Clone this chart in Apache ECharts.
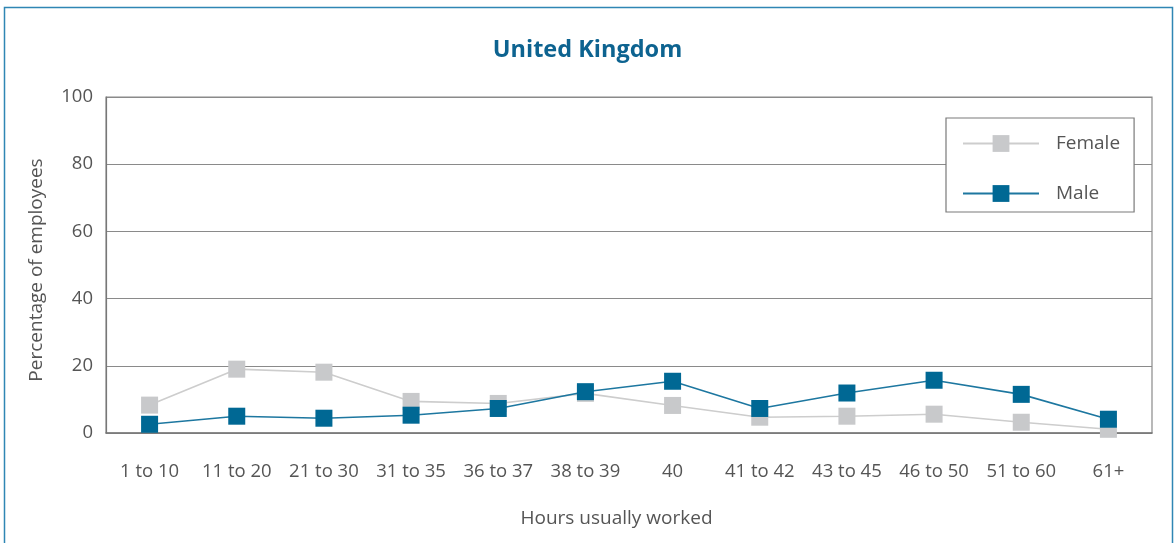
<!DOCTYPE html>
<html>
<head>
<meta charset="utf-8">
<script src="https://cdn.jsdelivr.net/npm/echarts@6/dist/echarts.min.js"></script>
<style>
  html, body { margin: 0; padding: 0; background: #ffffff; }
  #chart { width: 1175px; height: 543px; }
</style>
</head>
<body>
<div id="chart"></div>
<script>
// Hours usually worked, share of employees by sex (%)
const categories = ['1 to 10', '11 to 20', '21 to 30', '31 to 35', '36 to 37', '38 to 39',
                    '40', '41 to 42', '43 to 45', '46 to 50', '51 to 60', '61+'];
const female = [8.3, 19.0, 18.1, 9.4, 8.8, 11.8, 8.2, 4.7, 5.0, 5.6, 3.2, 1.1];
const male   = [2.6, 5.0, 4.4, 5.3, 7.3, 12.3, 15.4, 7.3, 11.9, 15.7, 11.5, 4.1];
const yTicks = [0, 20, 40, 60, 80, 100];

const FONT = '"Open Sans", "Noto Sans", sans-serif';
const TEXT = '#555555';

const chart = echarts.init(document.getElementById('chart'), null, { renderer: 'canvas' });

chart.setOption({
  animation: false,
  backgroundColor: '#ffffff',
  textStyle: { fontFamily: FONT },
  graphic: [{
    type: 'rect',
    silent: true,
    z: 100,
    shape: { x: 4.5, y: 7.5, width: 1168, height: 600 },
    style: { fill: 'none', stroke: '#2f86b4', lineWidth: 1.5 }
  }],
  title: {
    text: 'United Kingdom',
    left: 'center',
    top: 33,
    textStyle: { fontFamily: FONT, fontSize: 23.5, fontWeight: 'bold', color: '#0d6390' }
  },
  legend: {
    left: 946,
    top: 118,
    orient: 'vertical',
    backgroundColor: '#ffffff',
    borderColor: '#7a7a7a',
    borderWidth: 1.2,
    borderRadius: 0,
    padding: [16, 14, 9, 16],
    itemWidth: 76,
    itemHeight: 21,
    itemGap: 31,
    textStyle: { fontFamily: FONT, fontSize: 19, color: TEXT, padding: [0, 0, 0, 12] },
    data: ['Female', 'Male']
  },
  grid: {
    left: 106, right: 23, top: 97, bottom: 110,
    show: true, borderColor: '#8a8a8a', borderWidth: 1.2, backgroundColor: 'transparent'
  },
  xAxis: {
    type: 'category',
    data: categories,
    boundaryGap: true,
    name: 'Hours usually worked',
    nameLocation: 'middle',
    nameGap: 76,
    nameTextStyle: { fontFamily: FONT, fontSize: 19, color: TEXT, padding: [0, 25, 0, 0] },
    axisLine: { lineStyle: { color: '#777777', width: 1.5 } },
    axisTick: { inside: true, length: 8, lineStyle: { color: '#666666', width: 1.2 } },
    axisLabel: { margin: 29, fontFamily: FONT, fontSize: 18.5, color: TEXT, interval: 0 }
  },
  yAxis: {
    type: 'value',
    min: yTicks[0],
    max: yTicks[yTicks.length - 1],
    interval: yTicks[1] - yTicks[0],
    name: 'Percentage of employees',
    nameLocation: 'middle',
    nameGap: 60,
    nameTextStyle: { fontFamily: FONT, fontSize: 19, color: TEXT, padding: [0, 10, 0, 0] },
    axisLine: { show: true, lineStyle: { color: '#777777', width: 1.2 } },
    axisTick: { show: false },
    axisLabel: { margin: 13, fontFamily: FONT, fontSize: 18.5, color: TEXT },
    splitLine: { lineStyle: { color: '#8a8a8a', width: 1.2 } }
  },
  series: [
    {
      name: 'Female',
      type: 'line',
      data: female,
      symbol: 'rect',
      symbolSize: 17,
      z: 2,
      lineStyle: { color: '#cdcdcd', width: 1.6 },
      itemStyle: { color: '#c8c9cb' }
    },
    {
      name: 'Male',
      type: 'line',
      data: male,
      symbol: 'rect',
      symbolSize: 17,
      z: 3,
      lineStyle: { color: '#1d77a0', width: 1.6 },
      itemStyle: { color: '#006894' }
    }
  ]
});
</script>
</body>
</html>
